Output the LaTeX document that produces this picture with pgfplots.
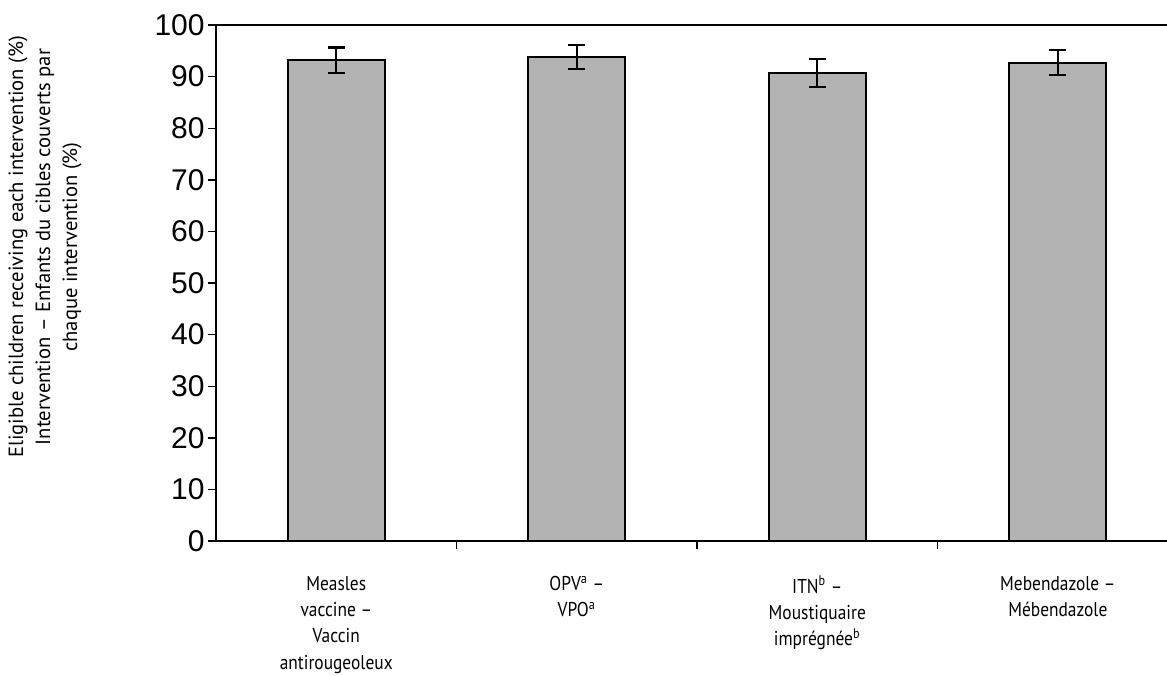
\documentclass[border=0pt]{standalone}
\usepackage{fontspec}
\usepackage{pgfplots}
\pgfplotsset{compat=1.18}
\setmainfont{PT Sans}
\newfontfamily\arialfont{Liberation Sans}
\newfontfamily\labfont[FakeStretch=0.87]{PT Sans}
\newfontfamily\ylabfont{PT Sans}
\definecolor{bargray}{RGB}{179,179,179}
\begin{document}
\begin{tikzpicture}
\useasboundingbox (0pt,0pt) rectangle (583.5pt,-337.5pt);
\begin{axis}[
  at={(108pt,-270.5pt)}, anchor=south west,
  scale only axis,
  width=475.5pt, height=258pt,
  xmin=-0.5, xmax=3.454,
  ymin=0, ymax=100,
  axis y line*=left,
  axis line style={line width=0.9pt},
  ytick={0,10,...,100},
  yticklabel style={font=\fontsize{15}{17}\selectfont\arialfont, inner sep=1.5pt},
  /pgf/number format/assume math mode=true,
  tick style={black, line width=0.7pt},
  tick align=outside,
  major tick length=4pt,
  xtick pos=bottom,
  ytick pos=left,
  xtick={0,1,2,3},
  xticklabels={
    {Measles\\vaccine –\\Vaccin\\antirougeoleux},
    {OPV\textsuperscript{a} –\\VPO\textsuperscript{a}},
    {ITN\textsuperscript{b} –\\Moustiquaire\\imprégnée\textsuperscript{b}},
    {Mebendazole –\\Mébendazole}},
  xticklabel style={font=\fontsize{10}{13.2}\selectfont\labfont, align=center, anchor=north, yshift=-10pt},
  x tick style={draw=none},
  extra x ticks={0.5,1.5,2.5},
  extra x tick labels={},
  extra x tick style={x tick style={draw=black, line width=0.7pt}, major tick length=4pt},
  clip=false,
]
\addplot[ybar, bar width=0.403, fill=bargray, draw=black, line width=1pt,
  error bars/.cd, y dir=both, y explicit,
  error bar style={line width=1.1pt, black},
  error mark options={rotate=90, mark size=4.25pt, line width=1.1pt}]
  coordinates {
    (0,93.2) +- (0,2.45)
    (1,93.8) +- (0,2.25)
    (2,90.7) +- (0,2.7)
    (3,92.7) +- (0,2.45)
  };
\end{axis}
\node[rotate=90, align=center, font=\fontsize{10.3}{13.5}\selectfont\ylabfont] at (22.5pt,-123.5pt)
  {Eligible children receiving each intervention (\%)\\Intervention – Enfants du cibles couverts par\\chaque intervention (\%)};
\end{tikzpicture}
\end{document}
